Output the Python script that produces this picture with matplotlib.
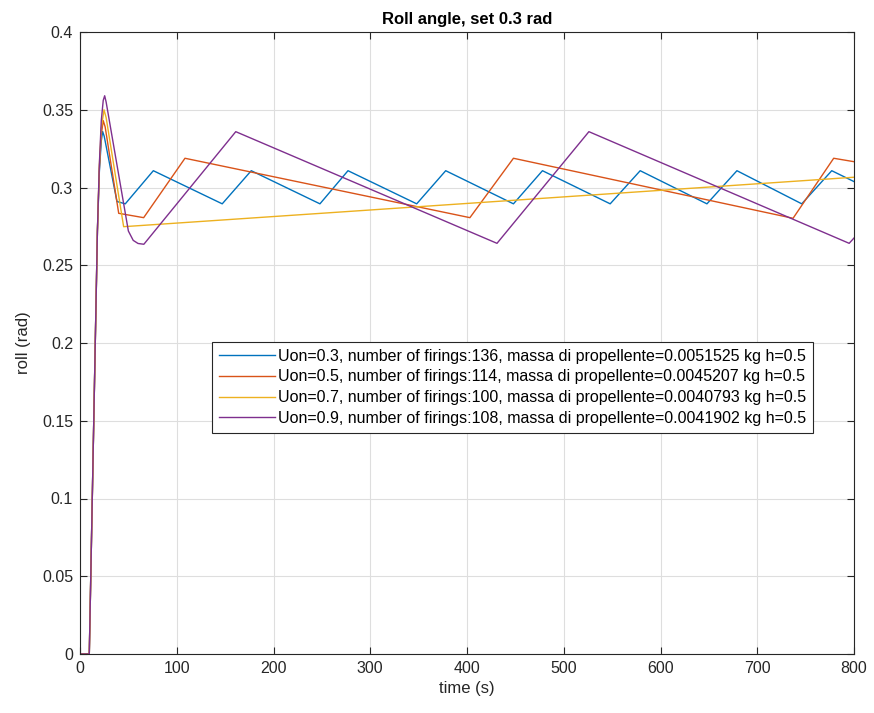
import matplotlib
matplotlib.use("Agg")
import matplotlib.pyplot as plt
from matplotlib.ticker import FuncFormatter

plt.rcParams['font.family'] = ['Liberation Sans', 'DejaVu Sans']

# ---- data (time s, roll rad breakpoints) ----
t_u03 = [0, 9.6, 18, 20, 22, 23.4, 25, 38.2, 46.8, 75.8, 147, 177, 248, 277, 348, 378,
         448, 478, 548, 579, 648, 679, 746, 777, 800]
y_u03 = [0, 0, 0.272, 0.310, 0.330, 0.336, 0.333, 0.291, 0.2895, 0.3108, 0.2895, 0.3108,
         0.2895, 0.3108, 0.2895, 0.3108, 0.2895, 0.3108, 0.2895, 0.3108, 0.2895, 0.3108,
         0.2895, 0.3108, 0.3038]

t_u05 = [0, 9.6, 18, 20, 22, 24, 26, 40, 65.8, 108.5, 403, 448, 737, 779, 800]
y_u05 = [0, 0, 0.272, 0.312, 0.334, 0.343, 0.339, 0.2834, 0.2806, 0.3188, 0.2806, 0.3188,
         0.2802, 0.3188, 0.3166]

t_u07 = [0, 9.6, 18, 20, 22, 24.8, 27, 45.1, 800]
y_u07 = [0, 0, 0.272, 0.314, 0.338, 0.350, 0.345, 0.2748, 0.3066]

t_u09 = [0, 9.6, 18, 20, 22, 24, 25.5, 27, 50, 55, 60, 66, 161, 431, 526, 795, 800]
y_u09 = [0, 0, 0.272, 0.315, 0.343, 0.356, 0.359, 0.355, 0.272, 0.266, 0.264, 0.2635,
         0.3359, 0.2641, 0.3359, 0.2641, 0.2675]

labels = [
    "Uon=0.3, number of firings:136, massa di propellente=0.0051525 kg h=0.5",
    "Uon=0.5, number of firings:114, massa di propellente=0.0045207 kg h=0.5",
    "Uon=0.7, number of firings:100, massa di propellente=0.0040793 kg h=0.5",
    "Uon=0.9, number of firings:108, massa di propellente=0.0041902 kg h=0.5",
]
colors = ['#0072BD', '#D95319', '#EDB120', '#7E2F8E']

x_ticks = [0, 100, 200, 300, 400, 500, 600, 700, 800]
y_ticks = [0, 0.05, 0.1, 0.15, 0.2, 0.25, 0.3, 0.35, 0.4]

fig = plt.figure(figsize=(8.74, 7.13), dpi=100)
ax = fig.add_axes([80/874, 59/713, 774/874, 622/713])

series = [(t_u03, y_u03), (t_u05, y_u05), (t_u07, y_u07), (t_u09, y_u09)]
for (t, y), c, lab in zip(series, colors, labels):
    ax.plot(t, y, color=c, lw=1.0, label=lab)

ax.set_xlim(0, 800)
ax.set_ylim(0, 0.4)
ax.set_xticks(x_ticks)
ax.set_yticks(y_ticks)
ax.yaxis.set_major_formatter(FuncFormatter(lambda v, p: ('%g' % round(v, 3))))
ax.grid(True, color='#dedede', lw=0.8)
ax.set_axisbelow(True)
ax.tick_params(direction='in', top=True, right=True, length=5, width=0.8,
               labelsize=11.5, colors='#262626', pad=5)
for s in ax.spines.values():
    s.set_color('#262626')
    s.set_linewidth(0.8)

ax.set_xlabel('time (s)', fontsize=12, color='#262626', labelpad=4)
ax.set_ylabel('roll (rad)', fontsize=12, color='#262626', labelpad=8)
ax.set_title('Roll angle, set 0.3 rad', fontsize=12, fontweight='bold', color='#000000', pad=6)

leg = ax.legend(loc='upper left', bbox_to_anchor=(0.1705, 0.5016), fontsize=11.5,
                frameon=True, fancybox=False, framealpha=1, edgecolor='#262626',
                handlelength=3.5, handletextpad=0.2, labelspacing=0.36,
                borderpad=0.42, borderaxespad=0)
leg.get_frame().set_linewidth(0.8)

fig.savefig('out.png', dpi=100)
